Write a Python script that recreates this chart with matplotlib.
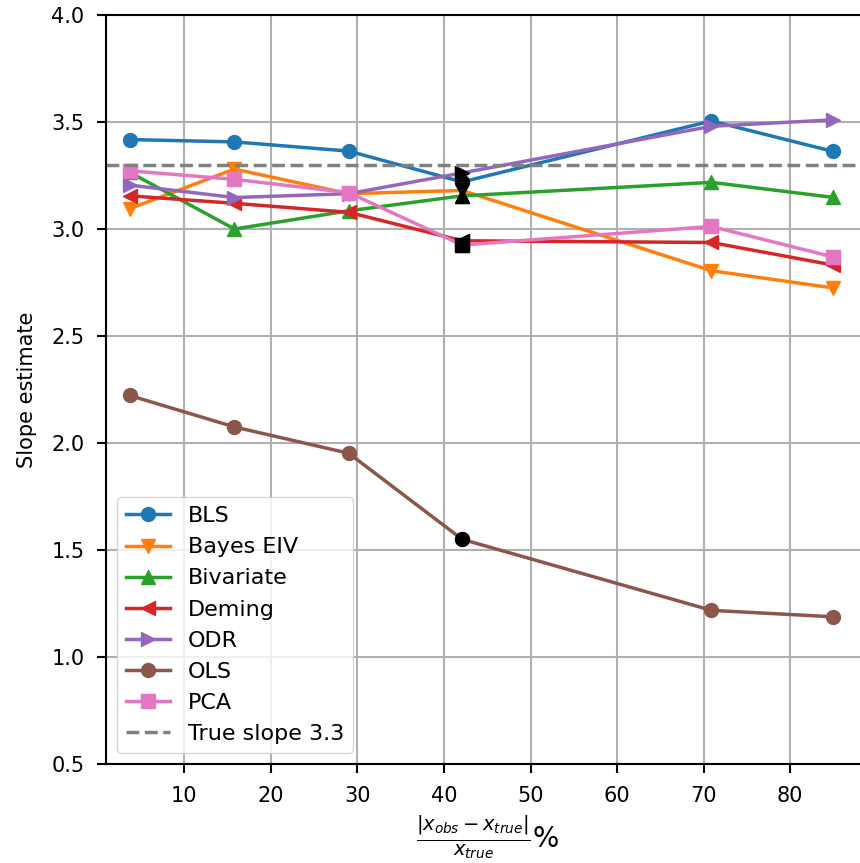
import matplotlib
matplotlib.use('Agg')
from matplotlib import pyplot as plt

# noise level (%) at which each estimate was computed
noise_pct = [3.7, 15.8, 29.0, 42.1, 70.9, 84.9]

bls = [3.418, 3.407, 3.364, 3.22, 3.505, 3.363]
bayes_eiv = [3.095, 3.28, 3.165, 3.18, 2.805, 2.725]
bivariate = [3.265, 3.0, 3.085, 3.155, 3.218, 3.148]
deming = [3.155, 3.12, 3.078, 2.945, 2.937, 2.832]
odr = [3.205, 3.147, 3.165, 3.262, 3.48, 3.51]
ols = [2.222, 2.075, 1.952, 1.55, 1.218, 1.188]
pca = [3.272, 3.232, 3.17, 2.925, 3.012, 2.87]

names = ['BLS', 'Bayes EIV', 'Bivariate', 'Deming', 'ODR', 'OLS', 'PCA']
series = [bls, bayes_eiv, bivariate, deming, odr, ols, pca]
markers = ['o', 'v', '^', '<', '>', 'o', 's']
true_slope = 3.3
highlight = 3  # index of the highlighted noise level

fig = plt.figure(figsize=(8.6, 8.63), dpi=100)
ax = fig.add_axes([106 / 860, 99 / 863, 763 / 860, 749 / 863])

for name, vals, mk in zip(names, series, markers):
    ax.plot(noise_pct, vals, marker=mk, linewidth=2.5, markersize=10, label=name)
    ax.plot(noise_pct[highlight], vals[highlight], marker=mk, color='black',
            markersize=10, linestyle='none')

ax.axhline(true_slope, color='gray', linestyle='--', linewidth=2.5,
           label='True slope 3.3')

ax.set_xlim(0.96, 89.1)
ax.set_ylim(0.5, 4.0)
ax.set_xticks([10, 20, 30, 40, 50, 60, 70, 80])
ax.grid(True, color='#b0b0b0', linewidth=1.5)
ax.set_axisbelow(True)
ax.tick_params(labelsize=15, length=6.5, width=1.5, pad=9)
for sp in ax.spines.values():
    sp.set_linewidth(1.5)

ax.set_ylabel('Slope estimate', fontsize=15, labelpad=10)
ax.set_xlabel(r'$\frac{|x_{obs}-x_{true}|}{x_{true}}$%', fontsize=20, labelpad=6)
ax.legend(loc='lower left', fontsize=16, framealpha=0.8)

plt.savefig('out.png', dpi=100)
